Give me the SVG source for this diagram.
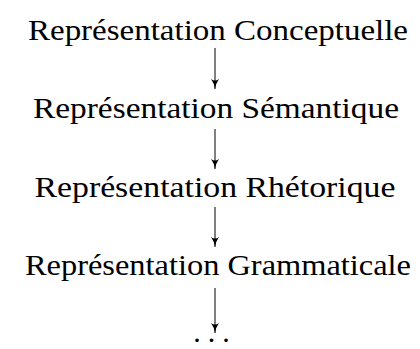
<svg xmlns="http://www.w3.org/2000/svg" width="420" height="349" viewBox="0 0 420 349">
<style>
.t{font-family:"Liberation Serif","DejaVu Serif",serif;font-size:30px;fill:#000;text-anchor:middle}
.c{stroke:#000;stroke-width:1;fill:none}
</style>
<defs>
<marker id="ah" viewBox="0 0 8 10" refX="4" refY="10" markerWidth="8" markerHeight="10" markerUnits="userSpaceOnUse" orient="0">
<path d="M0,0 Q3,4 4,10 Q5,4 8,0 Q4,3 0,0 Z" fill="#000"/>
</marker>
</defs>
<rect width="420" height="349" fill="#fff"/>
<g id="n1"><text class="t" x="218" y="40" textLength="380" lengthAdjust="spacingAndGlyphs">Représentation Conceptuelle</text></g>
<g id="n2"><text class="t" x="216" y="118" textLength="366" lengthAdjust="spacingAndGlyphs">Représentation Sémantique</text></g>
<g id="n3"><text class="t" x="215" y="197" textLength="361" lengthAdjust="spacingAndGlyphs">Représentation Rhétorique</text></g>
<g id="n4"><text class="t" x="218" y="275" textLength="386" lengthAdjust="spacingAndGlyphs">Représentation Grammaticale</text></g>
<g id="n5"><text class="t" x="197 211.5 226" y="342">...</text></g>
<g id="connectors">
<path class="c" d="M215,48 V89" marker-end="url(#ah)"/>
<path class="c" d="M215,129 V169" marker-end="url(#ah)"/>
<path class="c" d="M215,207 V247" marker-end="url(#ah)"/>
<path class="c" d="M215,288 V333" marker-end="url(#ah)"/>
</g>
</svg>
